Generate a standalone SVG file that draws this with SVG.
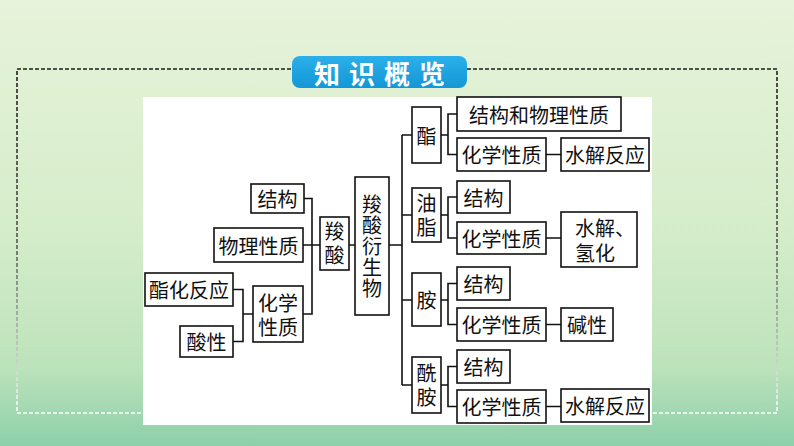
<svg xmlns="http://www.w3.org/2000/svg" width="794" height="446" viewBox="0 0 794 446">
<defs>
<linearGradient id="bg" x1="0" y1="0" x2="0" y2="1">
<stop offset="0" stop-color="#e7f3da"/>
<stop offset="0.5" stop-color="#d6edcb"/>
<stop offset="0.82" stop-color="#bde3bb"/>
<stop offset="1" stop-color="#8dd0aa"/>
</linearGradient>
<linearGradient id="dash" x1="0" y1="0" x2="0" y2="1">
<stop offset="0" stop-color="#1e1e1e"/>
<stop offset="0.5" stop-color="#555"/>
<stop offset="1" stop-color="#ffffff"/>
</linearGradient>
<linearGradient id="badge" x1="0" y1="0" x2="0" y2="1">
<stop offset="0" stop-color="#2bb0ea"/>
<stop offset="1" stop-color="#1497d6"/>
</linearGradient>
</defs>
<style>
.b{fill:#fff;stroke:#111;stroke-width:1.6}
.t{font-family:"Noto Sans CJK SC","Noto Sans CJK TC",sans-serif;font-size:20px;fill:#111;text-anchor:middle;dominant-baseline:central}
.v{writing-mode:vertical-rl;text-orientation:upright}
.c{fill:none;stroke:#111;stroke-width:1.6}
</style>
<rect x="0" y="0" width="794" height="446" fill="url(#bg)"/>
<rect x="17" y="69" width="760" height="344" fill="none" stroke="url(#dash)" stroke-width="1.6" stroke-dasharray="4 2"/>
<g id="title">
<rect x="292" y="56" width="175" height="32" rx="8" fill="url(#badge)"/>
<text x="314" y="72" font-family="'Noto Sans CJK SC',sans-serif" font-size="26" font-weight="bold" fill="#fff" dominant-baseline="central" letter-spacing="9">知识概览</text>
</g>
<rect x="143" y="97" width="509" height="328" fill="#fff"/>
<g id="connectors">
<path class="c" d="M233,289.5H243V341.5H233M243,314H253"/>
<path class="c" d="M304,198.5H312V314H303M303,245H320"/>
<path class="c" d="M349,245H355M389,245H402M402,135V385M402,135H412M402,215H412M402,300H412M402,385H412"/>
<path class="c" d="M457,114H448V154.5H457M441,135H448"/>
<path class="c" d="M457,197H448V238H457M441,215H448"/>
<path class="c" d="M457,283.5H448V324.5H457M441,300H448"/>
<path class="c" d="M457,366.5H448V406.5H457M441,385H448"/>
<path class="c" d="M546,154.5H561M546,238H561M546,324.5H561M546,406.5H561"/>
</g>
<g id="n1"><rect class="b" x="251" y="184" width="53" height="29"/><text class="t" x="277.5" y="198.5">结构</text></g>
<g id="n2"><rect class="b" x="214" y="228" width="89" height="34"/><text class="t" x="258.5" y="245">物理性质</text></g>
<g id="n3"><rect class="b" x="253" y="286" width="50" height="56"/><text class="t"><tspan x="278" y="302">化学</tspan><tspan x="278" dy="24">性质</tspan></text></g>
<g id="n4"><rect class="b" x="145" y="273" width="88" height="33"/><text class="t" x="189" y="289.5">酯化反应</text></g>
<g id="n5"><rect class="b" x="180" y="326" width="53" height="31"/><text class="t" x="206.5" y="341.5">酸性</text></g>
<g id="n6"><rect class="b" x="320" y="217" width="29" height="53"/><text class="t v" x="334.5" y="245.5" letter-spacing="4">羧酸</text></g>
<g id="n7"><rect class="b" x="355" y="177" width="34" height="138"/><text class="t v" x="372" y="246.5" letter-spacing="1">羧酸衍生物</text></g>
<g id="n8"><rect class="b" x="412" y="107" width="29" height="56"/><text class="t" x="426.5" y="135">酯</text></g>
<g id="n9"><rect class="b" x="457" y="97" width="164" height="34"/><text class="t" x="539" y="114">结构和物理性质</text></g>
<g id="n10"><rect class="b" x="457" y="138" width="89" height="33"/><text class="t" x="501.5" y="154.5">化学性质</text></g>
<g id="n11"><rect class="b" x="561" y="138" width="88" height="33"/><text class="t" x="605" y="154.5">水解反应</text></g>
<g id="n12"><rect class="b" x="412" y="188" width="29" height="54"/><text class="t v" x="426.5" y="217" letter-spacing="4">油脂</text></g>
<g id="n13"><rect class="b" x="457" y="181" width="53" height="32"/><text class="t" x="483.5" y="197">结构</text></g>
<g id="n14"><rect class="b" x="457" y="222" width="89" height="32"/><text class="t" x="501.5" y="238">化学性质</text></g>
<g id="n15"><rect class="b" x="561" y="212" width="76" height="55"/><text class="t" style="text-anchor:start"><tspan x="575" y="227">水解、</tspan><tspan x="575" dy="25">氢化</tspan></text></g>
<g id="n16"><rect class="b" x="412" y="273" width="29" height="53"/><text class="t" x="426.5" y="299.5">胺</text></g>
<g id="n17"><rect class="b" x="457" y="267" width="53" height="33"/><text class="t" x="483.5" y="283.5">结构</text></g>
<g id="n18"><rect class="b" x="457" y="308" width="89" height="33"/><text class="t" x="501.5" y="324.5">化学性质</text></g>
<g id="n19"><rect class="b" x="561" y="308" width="52" height="33"/><text class="t" x="587" y="324.5">碱性</text></g>
<g id="n20"><rect class="b" x="412" y="357" width="29" height="56"/><text class="t v" x="426.5" y="387" letter-spacing="4">酰胺</text></g>
<g id="n21"><rect class="b" x="457" y="350" width="53" height="33"/><text class="t" x="483.5" y="366.5">结构</text></g>
<g id="n22"><rect class="b" x="457" y="390" width="89" height="33"/><text class="t" x="501.5" y="406.5">化学性质</text></g>
<g id="n23"><rect class="b" x="561" y="389" width="88" height="33"/><text class="t" x="605" y="405.5">水解反应</text></g>
</svg>
